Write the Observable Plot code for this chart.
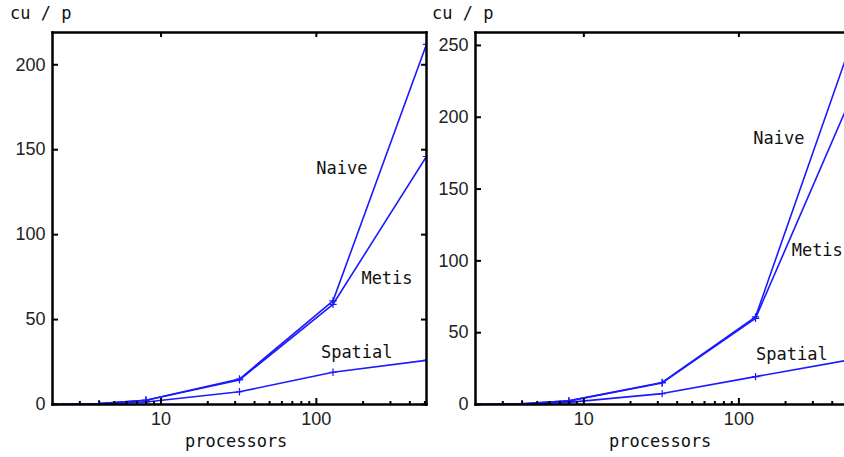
<!DOCTYPE html>
<html>
<head>
<meta charset="utf-8">
<script src="https://cdn.jsdelivr.net/npm/d3@7"></script>
<script src="https://cdn.jsdelivr.net/npm/@observablehq/plot@0.6"></script>
<style>
  html, body { margin: 0; padding: 0; background: #fff; overflow: hidden; }
  #wrap { position: relative; width: 844px; height: 457px; }
  .panel { position: absolute; top: 0; }
  .lbl { position: absolute; font-family: "DejaVu Sans Mono", "Liberation Mono", monospace; font-size: 17px; color: #111; white-space: nowrap; }
</style>
</head>
<body>
<div id="wrap"></div>
<script>
// ---- data ----
const processors = [2, 4, 8, 32, 128, 512];

// left panel
const leftNaive   = [0, 0.5, 2.5, 15, 61, 212];
const leftMetis   = [0, 0.5, 2.5, 14.5, 59, 146];
const leftSpatial = [0, 0.3, 1.5, 7.5, 19, 26];

// right panel
const rightNaive   = [0, 0.5, 2.5, 15.3, 61, 247];
const rightMetis   = [0, 0.5, 2.5, 15, 60, 210];
const rightSpatial = [0, 0.3, 1.5, 7.6, 19.4, 31];

const seriesNames = ["Naive", "Metis", "Spatial"];
const leftLabelX  = [100, 195, 107];
const leftLabelY  = [139, 74, 30.5];
const rightLabelX = [124, 219, 129];
const rightLabelY = [185, 107, 34.8];

const leftYTicks  = [0, 50, 100, 150, 200];
const rightYTicks = [0, 50, 100, 150, 200, 250];
const xMajorTicks = [10, 100];
const xMinorTicks = [3, 4, 5, 6, 7, 8, 9, 20, 30, 40, 50, 60, 70, 80, 90, 200, 300, 400, 500];

const yTitle = "cu / p";
const xTitle = "processors";

// ---- drawing ----
const BLUE = "#1a1aff";
const tickFont = "Liberation Sans, Arial, sans-serif";

function rows(vals, name) {
  return processors.map((p, i) => ({p, v: vals[i], s: name}));
}

function panel({series, labelX, labelY, yDomain, yTicks, xDomain, width, marginLeft, marginRight, rightFrame}) {
  const data = series.flatMap(([name, vals]) => rows(vals, name));
  const labels = seriesNames.map((s, i) => ({s, x: labelX[i], y: labelY[i]}));
  const marks = [
    Plot.line(data, {x: "p", y: "v", z: "s", stroke: BLUE, strokeWidth: 1.6, clip: true}),
    Plot.dot(data, {x: "p", y: "v", symbol: "plus", r: 2.5, stroke: BLUE, strokeWidth: 1.2, clip: true}),
    Plot.axisY({ticks: yTicks, tickSize: 0, tickPadding: 7, fontSize: 18, fontFamily: tickFont, fill: "#222"}),
    Plot.axisY({ticks: yTicks, anchor: "left", tickSize: -6, tickFormat: () => "", stroke: "#000", strokeWidth: 2}),
    Plot.axisX({ticks: xMajorTicks, tickSize: 0, tickPadding: 8, fontSize: 18, fontFamily: tickFont, fill: "#222", tickFormat: d3.format("d")}),
    Plot.axisX({ticks: xMajorTicks, anchor: "bottom", tickSize: -6, tickFormat: () => "", stroke: "#000", strokeWidth: 2}),
    Plot.axisX({ticks: xMinorTicks, anchor: "bottom", tickSize: -3, tickFormat: () => "", stroke: "#000", strokeWidth: 2}),
    Plot.axisX({ticks: xMajorTicks, anchor: "top", tickSize: -4, tickFormat: () => "", stroke: "#000", strokeWidth: 2}),
    Plot.frame({anchor: "left", stroke: "#000", strokeWidth: 2.5}),
    Plot.frame({anchor: "top", stroke: "#000", strokeWidth: 2.5}),
    Plot.frame({anchor: "bottom", stroke: "#000", strokeWidth: 2.5}),
    Plot.text(labels, {x: "x", y: "y", text: "s", textAnchor: "start", fontSize: 17, fontFamily: "DejaVu Sans Mono, monospace", fill: "#111"})
  ];
  if (rightFrame) {
    marks.push(Plot.axisY({ticks: yTicks, anchor: "right", tickSize: -6, tickFormat: () => "", stroke: "#000", strokeWidth: 2}));
    marks.push(Plot.frame({anchor: "right", stroke: "#000", strokeWidth: 2.5}));
  }
  return Plot.plot({
    width, height: 457,
    marginLeft, marginRight, marginTop: 32, marginBottom: 53,
    style: {background: "transparent", color: "#000", overflow: "visible"},
    x: {type: "log", domain: xDomain, label: null},
    y: {domain: yDomain, label: null},
    marks
  });
}

const wrap = document.getElementById("wrap");

const left = panel({
  series: [["Naive", leftNaive], ["Metis", leftMetis], ["Spatial", leftSpatial]],
  labelX: leftLabelX, labelY: leftLabelY,
  yDomain: [0, 219], yTicks: leftYTicks, xDomain: [2, 512],
  width: 430, marginLeft: 52, marginRight: 4, rightFrame: true
});
const right = panel({
  series: [["Naive", rightNaive], ["Metis", rightMetis], ["Spatial", rightSpatial]],
  labelX: rightLabelX, labelY: rightLabelY,
  yDomain: [0, 259], yTicks: rightYTicks, xDomain: [2, 480],
  width: 422, marginLeft: 53, marginRight: 0, rightFrame: false
});

const d1 = document.createElement("div"); d1.className = "panel"; d1.style.left = "0px"; d1.appendChild(left);
const d2 = document.createElement("div"); d2.className = "panel"; d2.style.left = "422px"; d2.appendChild(right);
wrap.appendChild(d1); wrap.appendChild(d2);

function addLabel(text, x, y) {
  const el = document.createElement("div");
  el.className = "lbl"; el.textContent = text;
  el.style.left = x + "px"; el.style.top = y + "px";
  wrap.appendChild(el);
}
addLabel(yTitle, 10, 3);
addLabel(yTitle, 432, 3);
addLabel(xTitle, 185, 431);
addLabel(xTitle, 609, 431);
</script>
</body>
</html>
